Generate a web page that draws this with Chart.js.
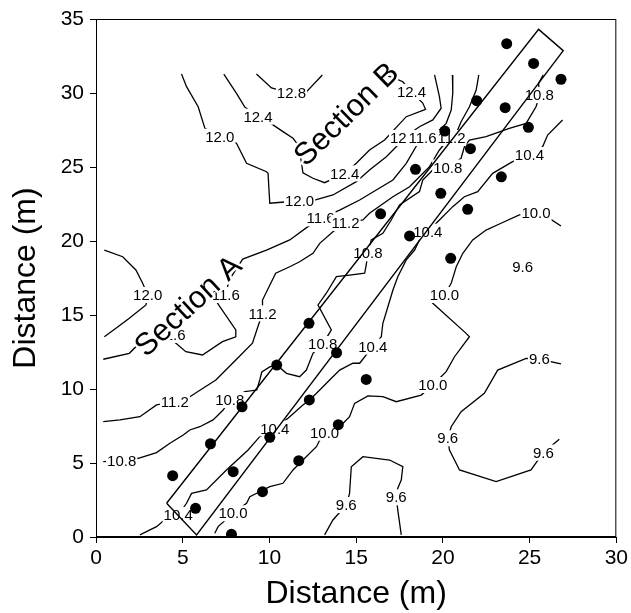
<!DOCTYPE html>
<html>
<head>
<meta charset="utf-8">
<script src="https://cdn.jsdelivr.net/npm/chart.js@4.4.1/dist/chart.umd.min.js"></script>
<style>html,body{margin:0;background:#fff}</style>
</head>
<body>
<canvas id="cv" width="631" height="613"></canvas>
<script>
const FONT = '"Liberation Sans", Arial, Helvetica, sans-serif';

const xTicks = [0, 5, 10, 15, 20, 25, 30];
const yTicks = [0, 5, 10, 15, 20, 25, 30, 35];

// sampling points (m)
const sampleX = [4.42, 5.74, 7.81, 6.60, 7.91, 8.42, 9.60, 10.02, 10.42, 11.69, 12.28, 12.30, 13.87, 13.97, 15.58,
  23.68, 25.23, 26.81, 21.95, 23.59, 24.93, 20.11, 21.59, 18.42, 23.37, 19.88, 21.43, 16.41, 18.08, 20.45];
const sampleY = [4.14, 1.94, 0.18, 6.30, 4.41, 8.80, 3.06, 6.74, 11.62, 5.16, 14.44, 9.26, 12.45, 7.59, 10.65,
  33.33, 32.00, 30.93, 29.48, 29.01, 27.68, 27.43, 26.24, 24.84, 24.34, 23.22, 22.14, 21.84, 20.34, 18.83];

// section box outline
const boxX = [4.07, 5.80, 26.94, 25.52, 4.07];
const boxY = [2.28, 0.14, 32.86, 34.30, 2.28];

// isolines, [x, y] in m
const iso128 = [[9.25,31.28],[10.12,30.34],[11.17,30.0],[12.13,30.07],[13.05,31.22]];
const iso124 = [[7.37,31.28],[8.10,29.98],[8.58,29.05],[9.34,28.40],[10.12,27.91],[10.78,27.39],[11.36,26.94],[11.65,26.49],
  [11.84,25.36],[11.93,24.61],[12.51,24.24],[13.18,23.94],[14.34,24.57],[15.01,25.25],[15.77,26.15],[16.64,26.82],
  [17.89,28.40],[19.00,28.90],[18.84,29.32],[18.19,30.07],[17.69,30.76],[17.21,31.01],[16.64,31.22],[15.89,31.35]];
const iso120 = [[4.93,31.28],[5.22,30.43],[5.89,29.07],[6.28,27.61],[7.14,27.05],[8.10,26.60],[8.68,25.25],[9.83,24.68],
  [9.92,24.57],[10.02,22.55],[11.74,22.72],[12.61,22.77],[13.66,23.11],[15.01,24.01],[15.77,24.80],[16.74,25.70],
  [17.31,26.37],[17.69,26.94],[18.65,27.72],[19.42,28.18],[19.90,28.97],[19.80,29.75],[19.52,31.22]];
const iso120w = [[0.48,19.39],[1.54,18.94],[2.30,18.04],[2.69,17.14],[2.98,16.35],[2.88,15.68],[1.92,14.78],[1.15,14.10],[0.48,13.53]];
const iso116 = [[20.55,31.22],[20.57,29.98],[20.48,28.85],[20.19,27.95],[19.61,27.28],[18.65,26.78],[17.89,25.25],[17.12,24.12],
  [16.16,23.45],[15.20,22.77],[14.05,22.09],[12.95,21.53],[12.22,20.97],[11.17,20.07],[9.83,19.39],[8.46,18.78],
  [7.67,17.36],[7.48,16.35],[7.01,15.79],[8.06,13.99],[8.06,13.53],[7.29,13.20],[6.14,12.30],[5.18,12.52],
  [4.61,13.09],[3.97,13.51],[2.30,12.86],[1.92,12.41],[0.42,12.01]];
const iso112 = [[22.07,31.22],[21.92,30.20],[21.53,29.07],[21.05,28.06],[20.77,27.28],[20.28,26.82],[19.80,26.15],[19.23,25.02],
  [18.65,24.34],[18.08,23.67],[17.12,22.99],[15.77,21.87],[15.39,21.42],[14.39,21.22],[13.66,20.63],[12.90,19.84],
  [12.51,19.17],[11.74,18.60],[11.17,18.26],[10.36,17.82],[9.60,16.01],[9.60,15.11],[9.40,14.44],[9.02,13.09],
  [8.06,11.96],[6.91,10.61],[5.41,9.48],[4.55,9.14],[3.49,8.92],[2.53,8.13],[1.38,7.91],[0.42,7.79]];
const iso108 = [[0.42,5.09],[1.48,5.16],[2.44,5.32],[3.49,5.70],[4.26,6.33],[5.03,6.89],[5.41,7.23],[5.99,7.45],[6.75,7.91],
  [7.33,8.58],[7.71,9.26],[8.58,9.82],[9.27,9.93],[9.44,10.61],[9.56,11.15],[10.02,11.49],[10.42,11.62],[10.98,11.06],
  [11.74,10.83],[12.13,11.28],[12.51,12.41],[13.07,13.04],[13.57,13.99],[12.80,15.68],[13.28,16.47],[13.86,17.59],
  [14.62,17.70],[15.49,17.82],[15.58,18.38],[15.68,19.17],[15.87,20.07],[16.54,20.52],[17.02,21.42],[17.50,22.43],
  [18.65,23.34],[18.84,24.12],[19.42,24.80],[20.28,24.97],[21.05,25.59],[21.24,26.37],[21.53,26.82],[22.49,27.05],
  [23.83,27.61],[24.80,27.95],[25.37,29.07],[25.46,29.41],[25.56,29.86],[25.52,30.66],[25.79,31.22]];
const iso104 = [[2.53,0.14],[3.49,0.70],[4.07,1.28],[4.74,1.49],[5.22,2.28],[5.51,2.95],[6.37,3.18],[7.52,4.53],[8.77,5.88],
  [9.44,6.78],[10.31,7.34],[11.07,8.02],[11.93,8.92],[12.32,9.26],[12.90,9.93],[13.47,10.61],[14.05,11.28],[14.81,11.74],
  [15.20,11.74],[15.96,12.86],[16.45,13.53],[16.54,14.44],[16.83,15.56],[17.12,16.69],[17.40,17.59],[17.89,18.72],
  [18.37,19.39],[18.65,20.07],[19.13,20.63],[19.80,21.42],[20.57,22.32],[21.24,22.99],[22.01,23.33],[22.87,24.57],
  [24.02,25.36],[24.99,25.81],[25.75,26.37],[26.04,27.16],[26.90,28.18]];
const iso100 = [[6.85,0.25],[7.04,0.70],[7.90,1.60],[8.68,2.28],[8.87,2.72],[9.44,3.06],[10.02,3.40],[10.78,3.63],[11.36,4.53],
  [11.93,5.20],[12.71,6.10],[12.90,6.55],[13.18,7.05],[13.66,7.45],[14.05,7.45],[14.62,8.13],[14.91,9.03],[15.68,9.53],
  [16.54,9.48],[17.31,9.14],[18.75,9.59],[19.42,10.27],[20.19,11.17],[20.67,12.18],[21.53,13.53],[21.34,13.76],
  [19.42,15.79],[20.09,16.35],[20.48,17.14],[20.77,18.26],[21.15,19.17],[21.72,20.07],[22.49,20.74],[23.26,21.15],
  [24.41,21.76],[25.37,21.87],[26.14,21.53],[26.81,21.01]];
const iso96e = [[26.81,11.69],[25.56,12.01],[24.80,12.07],[23.16,11.28],[22.39,9.71],[21.05,8.47],[20.48,7.45],[20.28,6.67],
  [20.38,5.88],[20.96,4.53],[23.07,3.74],[25.08,4.53],[25.79,5.70],[26.71,6.60]];
const iso96s = [[13.18,0.14],[13.66,1.15],[14.43,2.16],[14.62,2.95],[14.72,4.75],[15.39,5.43],[16.93,5.20],[17.69,4.75],
  [17.60,3.85],[17.40,3.29],[17.31,2.68],[17.40,1.82],[17.60,0.14]];

const isoLines = [iso128, iso124, iso120, iso120w, iso116, iso112, iso108, iso104, iso100, iso96e, iso96s];

// isoline labels: [text, x, y]
const isoLabels = [
  ['12.8', 11.27, 29.98], ['12.4', 9.34, 28.40], ['12.4', 14.34, 24.57], ['12.4', 18.19, 30.07],
  ['12.0', 7.14, 27.05], ['12.0', 11.74, 22.72], ['12.0', 2.98, 16.35], ['12.0', 17.79, 26.96],
  ['11.6', 18.83, 26.96], ['11.2', 20.50, 26.96],
  ['11.6', 12.95, 21.53], ['11.6', 7.48, 16.35], ['11.6', 4.35, 13.65],
  ['11.2', 14.39, 21.22], ['11.2', 9.60, 15.11], ['11.2', 4.55, 9.14],
  ['10.8', 1.48, 5.16], ['10.8', 7.71, 9.26], ['10.8', 13.07, 13.04], ['10.8', 15.68, 19.17],
  ['10.8', 20.28, 24.97], ['10.8', 25.56, 29.86],
  ['10.4', 4.74, 1.49], ['10.4', 10.31, 7.34], ['10.4', 15.96, 12.86], ['10.4', 19.13, 20.63], ['10.4', 24.99, 25.81],
  ['10.0', 7.90, 1.60], ['10.0', 13.18, 7.05], ['10.0', 19.42, 10.27], ['10.0', 20.09, 16.35], ['10.0', 25.37, 21.87],
  ['9.6', 25.56, 12.01], ['9.6', 20.28, 6.67], ['9.6', 25.79, 5.70], ['9.6', 14.43, 2.16], ['9.6', 17.31, 2.68],
  ['9.6', 24.60, 18.26]
];

const sectionLabels = [['Section A', 5.36, 15.56], ['Section B', 14.48, 28.51]];
const sectionTilt = [-42.7, -44.4];

const pts = (xs, ys) => xs.map((v, i) => ({x: v, y: ys[i]}));

const datasets = [
  {data: pts(sampleX, sampleY), pointRadius: 5.5, pointBackgroundColor: '#000', pointBorderWidth: 0, showLine: false},
  {data: pts(boxX, boxY), showLine: true, pointRadius: 0, borderColor: '#000', borderWidth: 1.4, fill: false},
  ...isoLines.map(l => ({data: l.map(p => ({x: p[0], y: p[1]})), showLine: true, pointRadius: 0,
    borderColor: '#000', borderWidth: 1.3, fill: false}))
];

// isoline labels + section names go under the box outline and the dots
const annot = {
  id: 'annot',
  beforeDatasetDraw(chart, args) {
    if (args.index !== 1) return;
    const {ctx, scales: {x, y}} = chart;
    ctx.save();
    ctx.font = '15px ' + FONT;
    ctx.textAlign = 'center';
    ctx.textBaseline = 'middle';
    isoLabels.forEach(([t, vx, vy]) => {
      const px = x.getPixelForValue(vx), py = y.getPixelForValue(vy);
      const w = ctx.measureText(t).width;
      ctx.fillStyle = '#fff';
      ctx.fillRect(px - w / 2 - 1, py - 8, w + 2, 16);
      ctx.fillStyle = '#000';
      ctx.fillText(t, px, py + 1);
    });
    ctx.font = '31px ' + FONT;
    sectionLabels.forEach(([t, vx, vy], i) => {
      ctx.save();
      ctx.translate(x.getPixelForValue(vx), y.getPixelForValue(vy));
      ctx.rotate(sectionTilt[i] * Math.PI / 180);
      ctx.strokeStyle = '#fff';
      ctx.lineWidth = 5;
      ctx.lineJoin = 'round';
      ctx.strokeText(t, 0, 0);
      ctx.fillStyle = '#000';
      ctx.fillText(t, 0, 0);
      ctx.restore();
    });
    ctx.restore();
  },
  afterDraw(chart) {
    const {ctx, chartArea: a} = chart;
    ctx.save();
    ctx.strokeStyle = '#000';
    ctx.lineWidth = 1;
    ctx.strokeRect(a.left + 0.5, a.top + 0.5, a.right - a.left - 1, a.bottom - a.top - 1);
    ctx.restore();
  }
};

const axisCommon = {
  type: 'linear',
  grid: {display: true, drawOnChartArea: false, drawTicks: true, tickLength: 6, color: '#000'},
  border: {display: true, color: '#000', width: 1}
};

new Chart(document.getElementById('cv'), {
  type: 'scatter',
  data: {datasets},
  options: {
    responsive: false,
    animation: false,
    layout: {padding: {top: 19, right: 14, left: 0, bottom: 0}},
    plugins: {legend: {display: false}, tooltip: {enabled: false}},
    scales: {
      x: {...axisCommon, min: 0, max: 30,
        afterBuildTicks: s => { s.ticks = xTicks.map(v => ({value: v})); },
        ticks: {color: '#000', font: {family: FONT, size: 21}, padding: 3, maxRotation: 0},
        title: {display: true, text: 'Distance (m)', color: '#000', font: {family: FONT, size: 32, lineHeight: 1}, padding: {top: 0, bottom: 3}},
        afterFit: s => { s.height = 76; }},
      y: {...axisCommon, min: 0, max: 35,
        afterBuildTicks: s => { s.ticks = yTicks.map(v => ({value: v})); },
        ticks: {color: '#000', font: {family: FONT, size: 21}, padding: 6},
        title: {display: true, text: 'Distance (m)', color: '#000', font: {family: FONT, size: 32, lineHeight: 1}, padding: {top: 10, bottom: 0}},
        afterFit: s => { s.width = 96; }}
    }
  },
  plugins: [annot]
});
</script>
</body>
</html>
